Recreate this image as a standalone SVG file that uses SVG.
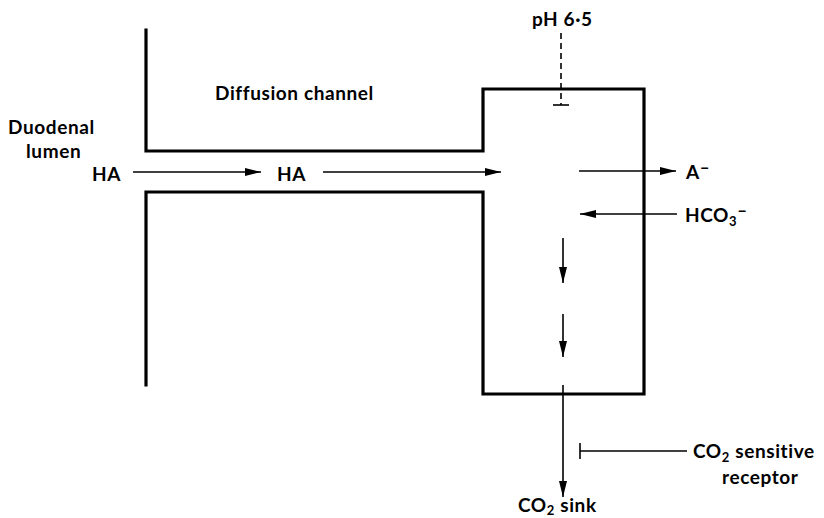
<svg xmlns="http://www.w3.org/2000/svg" width="824" height="518" viewBox="0 0 824 518">
<defs>
<style>
.wall{fill:none;stroke:#000;stroke-width:3.2;stroke-linejoin:miter;stroke-linecap:square}
.ln{fill:none;stroke:#000;stroke-width:1.6}
.t{font-family:Lato,"Open Sans","DejaVu Sans",sans-serif;font-size:19px;font-weight:bold;letter-spacing:0.6px;fill:#000}
.s{font-size:13px}
.m{font-size:17px}
</style>
<marker id="ah" viewBox="0 0 16 8" refX="16" refY="4" markerWidth="16" markerHeight="8" markerUnits="userSpaceOnUse" orient="auto">
<path d="M0,0 L16,4 L0,8 Z" fill="#000"/>
</marker>
</defs>
<rect width="824" height="518" fill="#fff"/>
<g id="walls">
<path class="wall" d="M146,30 V151 H483 V89 H644 V394 H483 V192 H146 V385"/>
</g>
<g id="labels">
<text class="t" x="8" y="134">Duodenal</text>
<text class="t" x="26" y="158">lumen</text>
<text class="t" x="215" y="100">Diffusion channel</text>
<text class="t" x="92" y="181">HA</text>
<text class="t" x="277" y="181">HA</text>
<text class="t" x="532" y="26">pH 6·5</text>
<text class="t" x="686" y="179">A<tspan class="m" dy="-6">–</tspan></text>
<text class="t" x="685" y="222">HCO<tspan class="s" dy="4">3</tspan><tspan class="m" dy="-10">–</tspan></text>
<text class="t" x="693" y="458">CO<tspan class="s" dy="4">2</tspan><tspan dy="-4"> sensitive</tspan></text>
<text class="t" x="722" y="484">receptor</text>
<text class="t" x="518" y="512">CO<tspan class="s" dy="3">2</tspan><tspan dy="-3"> sink</tspan></text>
</g>
<g id="connectors">
<line class="ln" x1="133" y1="172" x2="261" y2="172" marker-end="url(#ah)"/>
<line class="ln" x1="323" y1="172" x2="501" y2="172" marker-end="url(#ah)"/>
<line class="ln" x1="579" y1="171" x2="676" y2="171" marker-end="url(#ah)"/>
<line class="ln" x1="677" y1="214" x2="580" y2="214" marker-end="url(#ah)"/>
<line class="ln" x1="563" y1="238" x2="563" y2="283" marker-end="url(#ah)"/>
<line class="ln" x1="563" y1="314" x2="563" y2="357" marker-end="url(#ah)"/>
<line class="ln" x1="563" y1="385" x2="563" y2="497" marker-end="url(#ah)"/>
<line class="ln" x1="561" y1="33" x2="561" y2="105" stroke-dasharray="6,4"/>
<line class="ln" x1="553" y1="105" x2="569" y2="105"/>
<line class="ln" x1="580" y1="451" x2="687" y2="451"/>
<line class="ln" x1="580" y1="443" x2="580" y2="459"/>
</g>
</svg>
